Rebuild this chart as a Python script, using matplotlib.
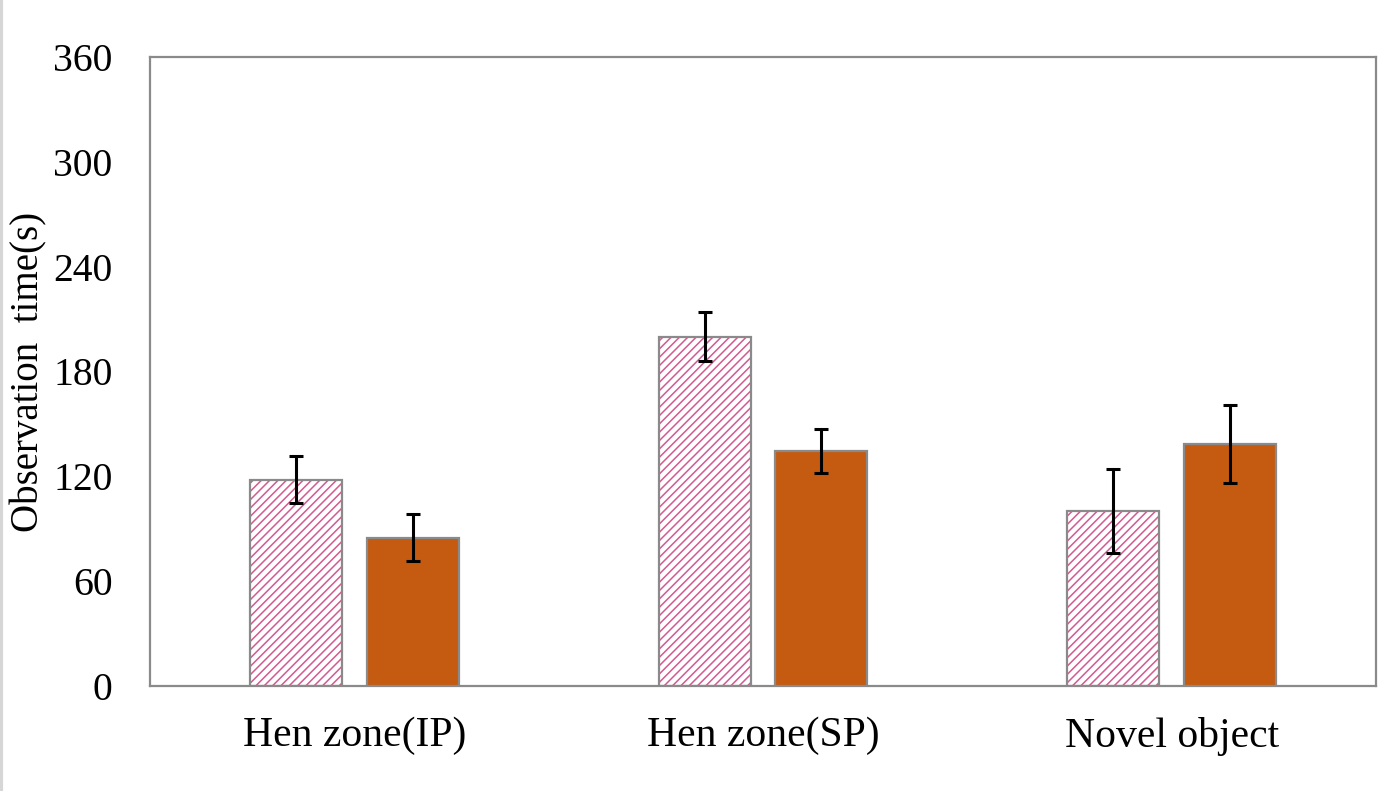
import matplotlib.pyplot as plt
import numpy as np
from matplotlib.lines import Line2D

# data
categories = ["Hen zone(IP)", "Hen zone(SP)", "Novel object"]
hatched_vals = [118, 200, 100]
hatched_err = [13.5, 14, 24]
solid_vals = [85, 134.5, 138.5]
solid_err = [13.5, 12.5, 22.5]
yticks = [0, 60, 120, 180, 240, 300, 360]

plt.rcParams['font.family'] = ['Liberation Serif', 'DejaVu Serif']
plt.rcParams['hatch.linewidth'] = 1.1

fig = plt.figure(figsize=(13.78, 7.91), dpi=100)
ax = fig.add_axes([0.1089, 0.1327, 0.8896, 0.7953])

x = np.arange(len(categories))
w = 0.225
off = 0.1425
edge = '#8a8a8a'

# hatched bars: hatch layer first, then outline on top
ax.bar(x - off, hatched_vals, w, facecolor='white', edgecolor='#d25a90',
       hatch='////', linewidth=0, zorder=2)
ax.bar(x - off, hatched_vals, w, facecolor='none', edgecolor=edge,
       linewidth=1.6, zorder=3)
ax.bar(x + off, solid_vals, w, color='#c55a11', edgecolor=edge,
       linewidth=1.6, zorder=3)

ax.errorbar(x - off, hatched_vals, yerr=hatched_err, fmt='none', ecolor='black',
            elinewidth=2.2, capsize=5, capthick=2.2, zorder=4)
ax.errorbar(x + off, solid_vals, yerr=solid_err, fmt='none', ecolor='black',
            elinewidth=2.2, capsize=5, capthick=2.2, zorder=4)

ax.set_xlim(-0.5, 2.5)
ax.set_ylim(0, 360)
ax.set_yticks(yticks)
ax.set_xticks(x)
ax.set_xticklabels(categories)
ax.tick_params(axis='both', length=0)
ax.tick_params(axis='y', pad=27, labelsize=28.5)
ax.tick_params(axis='x', pad=22, labelsize=30)

for s in ax.spines.values():
    s.set_color(edge)
    s.set_linewidth(1.6)

ax.set_ylabel("Observation  time(s)", fontsize=28)
ax.yaxis.set_label_coords(-0.084, 0.5)

# thin grey strip at the left edge of the picture
fig.add_artist(Line2D([0.001, 0.001], [0, 1], color='#d6d6d6', lw=3))

fig.savefig('out.png', dpi=100)
